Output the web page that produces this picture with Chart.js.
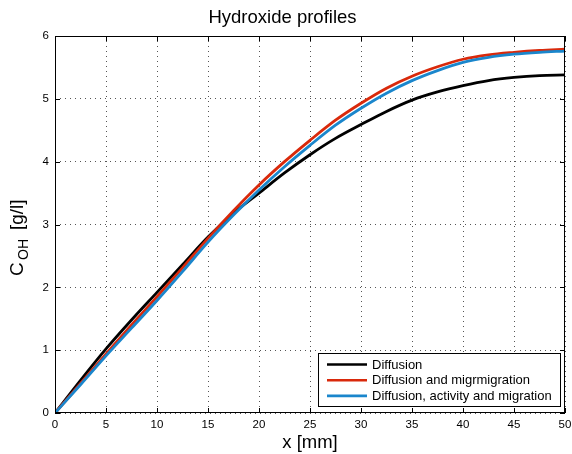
<!DOCTYPE html>
<html>
<head>
<meta charset="utf-8">
<script src="https://cdn.jsdelivr.net/npm/chart.js@4"></script>
<style>
  html, body { margin: 0; padding: 0; background: #fff; }
  #wrap { width: 572px; height: 454px; }
</style>
</head>
<body>
<div id="wrap"><canvas id="chart" width="572" height="454"></canvas></div>
<script>
// ─── data ────────────────────────────────────────────────────────────────────
const xMm = [0, 2.5, 5, 7.5, 10, 12.5, 15, 17.5, 20, 22.5, 25, 27.5, 30, 32.5, 35, 37.5, 40, 42.5, 45, 47.5, 50];
const diffusion = [0, 0.52, 1.02, 1.48, 1.92, 2.36, 2.80, 3.18, 3.50, 3.82, 4.11, 4.37, 4.59, 4.80, 4.98, 5.11, 5.21, 5.29, 5.34, 5.37, 5.38];
const diffMigration = [0, 0.47, 0.94, 1.40, 1.85, 2.31, 2.78, 3.22, 3.63, 4.00, 4.34, 4.66, 4.93, 5.17, 5.36, 5.51, 5.63, 5.70, 5.74, 5.77, 5.79];
const diffActivityMigration = [0, 0.45, 0.91, 1.35, 1.79, 2.25, 2.72, 3.15, 3.55, 3.92, 4.26, 4.58, 4.85, 5.09, 5.29, 5.45, 5.58, 5.66, 5.71, 5.74, 5.76];
const seriesLabels = ['Diffusion', 'Diffusion and migrmigration', 'Diffusion, activity and migration'];
const seriesColors = ['#000000', '#d9290b', '#1a86cc'];

const FONT = '"Liberation Sans", Arial, Helvetica, sans-serif';

function toPoints(ys) { return xMm.map((x, i) => ({ x: x, y: ys[i] })); }

// ─── box, inward ticks, y label with subscript, legend ───────────────────────
const matlabFrame = {
  id: 'matlabFrame',
  afterDatasetsDraw(chart) {
    const { ctx, chartArea: a, scales } = chart;
    ctx.save();
    ctx.strokeStyle = '#000';
    ctx.lineWidth = 1;
    ctx.strokeRect(a.left + 0.5, a.top + 0.5, a.right - a.left - 1, a.bottom - a.top - 1);
    ctx.beginPath();
    scales.x.ticks.forEach(t => {
      const px = Math.round(scales.x.getPixelForValue(t.value)) + 0.5;
      ctx.moveTo(px, a.bottom); ctx.lineTo(px, a.bottom - 5);
      ctx.moveTo(px, a.top); ctx.lineTo(px, a.top + 5);
    });
    scales.y.ticks.forEach(t => {
      const py = Math.round(scales.y.getPixelForValue(t.value)) + 0.5;
      ctx.moveTo(a.left, py); ctx.lineTo(a.left + 5, py);
      ctx.moveTo(a.right, py); ctx.lineTo(a.right - 5, py);
    });
    ctx.stroke();

    // legend
    const w = 242, h = 53;
    const lx = a.right - 5 - w, ly = a.bottom - 7 - h;
    ctx.fillStyle = '#fff';
    ctx.fillRect(lx, ly, w, h);
    ctx.strokeRect(lx + 0.5, ly + 0.5, w, h);
    ctx.font = '13px ' + FONT;
    ctx.textBaseline = 'middle';
    seriesLabels.forEach((lab, i) => {
      const yy = ly + 11.5 + i * 15.7;
      ctx.strokeStyle = seriesColors[i];
      ctx.lineWidth = 2.6;
      ctx.beginPath(); ctx.moveTo(lx + 9, yy); ctx.lineTo(lx + 49, yy); ctx.stroke();
      ctx.fillStyle = '#000';
      ctx.fillText(lab, lx + 54, yy + 0.5);
    });

    // axis labels
    ctx.fillStyle = '#000';
    ctx.textBaseline = 'alphabetic';
    ctx.textAlign = 'center';
    ctx.font = '18.5px ' + FONT;
    ctx.fillText('x [mm]', (a.left + a.right) / 2, 448);

    ctx.translate(23, 276);
    ctx.rotate(-Math.PI / 2);
    ctx.textAlign = 'left';
    ctx.font = '19px ' + FONT; ctx.fillText('C', 0, 0);
    ctx.font = '14px ' + FONT; ctx.fillText('OH', 16, 5);
    ctx.font = '19px ' + FONT; ctx.fillText('[g/l]', 46, 0);
    ctx.restore();
  }
};

new Chart(document.getElementById('chart'), {
  type: 'line',
  data: {
    datasets: [
      { label: seriesLabels[0], data: toPoints(diffusion), borderColor: seriesColors[0], order: 2 },
      { label: seriesLabels[1], data: toPoints(diffMigration), borderColor: seriesColors[1], order: 1 },
      { label: seriesLabels[2], data: toPoints(diffActivityMigration), borderColor: seriesColors[2], order: 0 },
    ].map(d => Object.assign(d, { borderWidth: 2.8, pointRadius: 0, fill: false, cubicInterpolationMode: 'monotone' })),
  },
  options: {
    responsive: false,
    animation: false,
    devicePixelRatio: 1,
    layout: { padding: { left: 0, right: 7, top: 0, bottom: 0 } },
    plugins: {
      legend: { display: false },
      tooltip: { enabled: false },
      title: {
        display: true, text: 'Hydroxide profiles', color: '#000',
        font: { family: FONT, size: 18.5, weight: 'normal', lineHeight: 1.2 },
        padding: { top: 7, bottom: 6.8 },
      },
    },
    scales: {
      x: {
        type: 'linear', min: 0, max: 50,
        ticks: { stepSize: 5, color: '#000', font: { family: FONT, size: 11.5 }, padding: 5, maxRotation: 0, autoSkip: false },
        grid: { color: '#555', drawTicks: false, lineWidth: 1 },
        border: { display: false, dash: [1, 4] },
        afterFit(s) { s.height = 41; s.paddingLeft = 0; s.paddingRight = 0; },
      },
      y: {
        type: 'linear', min: 0, max: 6,
        ticks: { stepSize: 1, color: '#000', font: { family: FONT, size: 11.5 }, padding: 6 },
        grid: { color: '#555', drawTicks: false, lineWidth: 1 },
        border: { display: false, dash: [1, 4] },
        afterFit(s) { s.width = 55; s.paddingTop = 0; s.paddingBottom = 0; },
      },
    },
  },
  plugins: [matlabFrame],
});
</script>
</body>
</html>
